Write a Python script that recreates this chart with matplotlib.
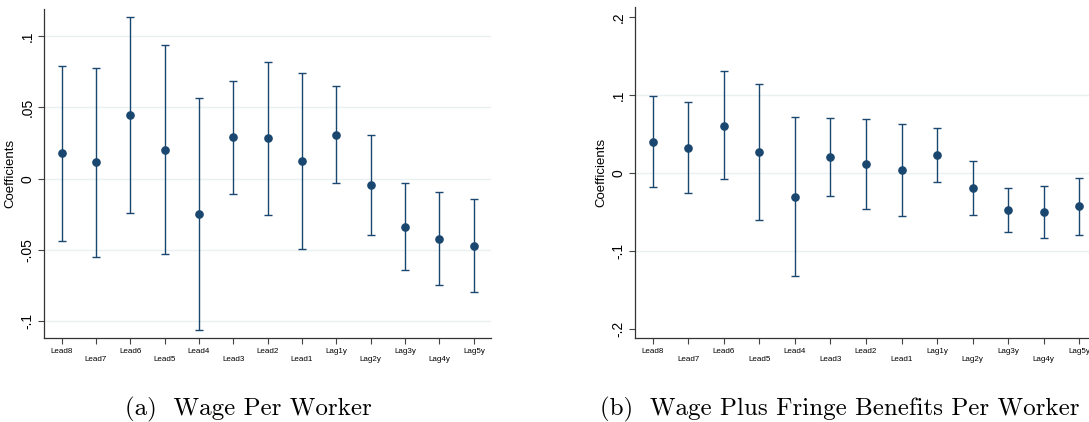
import matplotlib
matplotlib.use("Agg")
import matplotlib.pyplot as plt
import numpy as np

# event-time labels (shared by both panels)
labels = ["Lead8", "Lead7", "Lead6", "Lead5", "Lead4", "Lead3", "Lead2",
          "Lead1", "Lag1y", "Lag2y", "Lag3y", "Lag4y", "Lag5y"]

## (a) Wage per worker
coef_a = [0.0178, 0.0115, 0.0445, 0.0203, -0.0245, 0.0290, 0.0283,
          0.0124, 0.0309, -0.0044, -0.0337, -0.0420, -0.0470]
hi_a = [0.0788, 0.0780, 0.1136, 0.0940, 0.0568, 0.0687, 0.0820,
        0.0739, 0.0650, 0.0309, -0.0032, -0.0096, -0.0142]
lo_a = [-0.0435, -0.0550, -0.0243, -0.0530, -0.1060, -0.0107, -0.0252,
        -0.0493, -0.0030, -0.0395, -0.0640, -0.0743, -0.0795]
yticks_a = [-0.1, -0.05, 0, 0.05, 0.1]
yticklabels_a = ["-.1", "-.05", "0", ".05", ".1"]

## (b) Wage plus fringe benefits per worker
coef_b = [0.0405, 0.0328, 0.0610, 0.0273, -0.0300, 0.0213, 0.0115,
          0.0046, 0.0235, -0.0185, -0.0474, -0.0490, -0.0423]
hi_b = [0.0990, 0.0910, 0.1308, 0.1149, 0.0718, 0.0713, 0.0700,
        0.0636, 0.0585, 0.0162, -0.0192, -0.0159, -0.0064]
lo_b = [-0.0180, -0.0249, -0.0077, -0.0603, -0.1321, -0.0287, -0.0462,
        -0.0543, -0.0115, -0.0530, -0.0756, -0.0830, -0.0787]
yticks_b = [-0.2, -0.1, 0, 0.1, 0.2]
yticklabels_b = ["-.2", "-.1", "0", ".1", ".2"]

navy = "#1a476f"
gridc = "#e9f1f3"
sans = ["Liberation Sans", "DejaVu Sans"]

fig = plt.figure(figsize=(10.89, 4.22), dpi=100)


def panel(rect, coef, lo, hi, ylim, yticks, yticklabels, gridticks):
    ax = fig.add_axes(rect)
    x = np.arange(1, len(coef) + 1)
    coef = np.array(coef)
    err = [coef - np.array(lo), np.array(hi) - coef]
    for g in gridticks:
        ax.axhline(g, color=gridc, lw=1.0, zorder=0)
    ax.errorbar(x, coef, yerr=err, fmt="o", color=navy, ms=5.2,
                elinewidth=1.0, capsize=2.8, capthick=1.0, zorder=3)
    ax.set_xlim(0.5, 13.5)
    ax.set_ylim(*ylim)
    ax.set_xticks(x)
    # stagger labels like Stata's alternate option
    ax.set_xticklabels([l if i % 2 == 0 else "\n" + l for i, l in enumerate(labels)],
                       fontsize=5.8, family=sans, linespacing=1.1)
    ax.set_yticks(yticks)
    ax.set_yticklabels(yticklabels, rotation=90, va="center", fontsize=10, family=sans)
    ax.tick_params(axis="x", length=4, width=0.8, pad=3, color="#444444")
    ax.tick_params(axis="y", length=4, width=0.8, pad=3, color="#444444")
    for s in ["top", "right"]:
        ax.spines[s].set_visible(False)
    for s in ["left", "bottom"]:
        ax.spines[s].set_color("#333333")
        ax.spines[s].set_linewidth(0.9)
    ax.set_ylabel("Coefficients", fontsize=9.5, family=sans, labelpad=3)
    return ax


ax1 = panel([0.0407, 0.1983, 0.4102, 0.7803], coef_a, lo_a, hi_a,
            (-0.1119, 0.1190), yticks_a, yticklabels_a, yticks_a)
ax2 = panel([0.5831, 0.1983, 0.4242, 0.7844], coef_b, lo_b, hi_b,
            (-0.2115, 0.2128), yticks_b, yticklabels_b, [-0.1, 0, 0.1])

fig.text(0.2277, 0.0166, "(a)  Wage Per Worker", fontsize=18, family="cmr10",
         ha="center", va="baseline")
fig.text(0.551, 0.0166, "(b)  Wage Plus Fringe Benefits Per Worker", fontsize=18,
         family="cmr10", ha="left", va="baseline")

fig.savefig("out.png", dpi=100)
